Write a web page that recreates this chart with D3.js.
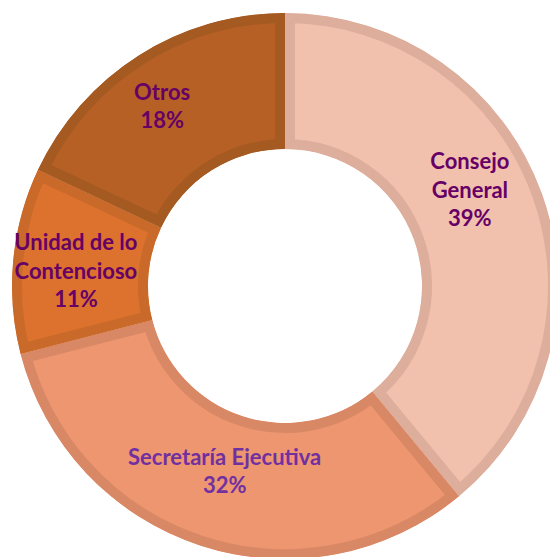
<!DOCTYPE html>
<html lang="es">
<head>
<meta charset="UTF-8">
<title>Distribución por área</title>
<script src="https://cdn.jsdelivr.net/npm/d3@7"></script>
<style>
  html, body { margin: 0; padding: 0; background: #fff; }
  svg { display: block; }
  .label-text { font-family: Lato, "Open Sans", sans-serif; font-weight: bold; font-size: 22px; }
</style>
</head>
<body>
<svg width="550" height="557"></svg>
<script>
const categories = ["Consejo General", "Secretaría Ejecutiva", "Unidad de lo Contencioso", "Otros"];
const labelLines = [["Consejo", "General"], ["Secretaría Ejecutiva"], ["Unidad de lo", "Contencioso"], ["Otros"]];
const values = [39, 32, 11, 18];

const fills = ["#F2C1AE", "#EE9670", "#DC722E", "#B66025"];
const strokes = ["#DDAE9C", "#D98866", "#C96A2B", "#A55A22"];
const textColors = ["#660066", "#7030A0", "#660066", "#660066"];
// small nudges from the arc centroid, like the hand placed labels in the original
const nudges = [[-8, -27], [3, -10], [-5, 4], [-13, -7]];

const svg = d3.select("svg");
const cx = 285, cy = 286, outerR = 273, innerR = 137, lineH = 28.5;

const data = categories.map((c, i) => ({ name: c, value: values[i], i: i }));

const pie = d3.pie().value(d => d.value).sort(null);
const arcs = pie(data);

const arc = d3.arc().innerRadius(innerR).outerRadius(outerR);
const labelArc = d3.arc().innerRadius(205).outerRadius(205);

const g = svg.append("g").attr("transform", `translate(${cx},${cy})`);
const defs = svg.append("defs");

arcs.forEach((a, i) => {
  defs.append("clipPath").attr("id", "clip" + i)
    .append("path").attr("d", arc(a));
});

// fill, then a wide stroke clipped to the slice so the border sits inside it
g.selectAll(".slice")
  .data(arcs)
  .enter()
  .append("path")
  .attr("class", "slice")
  .attr("d", arc)
  .attr("fill", d => fills[d.data.i])
  .attr("stroke", d => strokes[d.data.i])
  .attr("stroke-width", 20)
  .attr("stroke-linejoin", "miter")
  .attr("clip-path", d => `url(#clip${d.data.i})`);

arcs.forEach(a => {
  const i = a.data.i;
  const [x, y] = labelArc.centroid(a);
  const lines = labelLines[i].concat([a.data.value + "%"]);
  const lx = x + nudges[i][0];
  const ly = y + nudges[i][1];
  const y0 = ly - (lines.length - 1) * lineH / 2 + 8;
  const t = g.append("text")
    .attr("class", "label-text")
    .attr("text-anchor", "middle")
    .attr("fill", textColors[i]);
  lines.forEach((l, k) => {
    t.append("tspan")
      .attr("x", lx)
      .attr("y", y0 + k * lineH)
      .text(l);
  });
});
</script>
</body>
</html>
